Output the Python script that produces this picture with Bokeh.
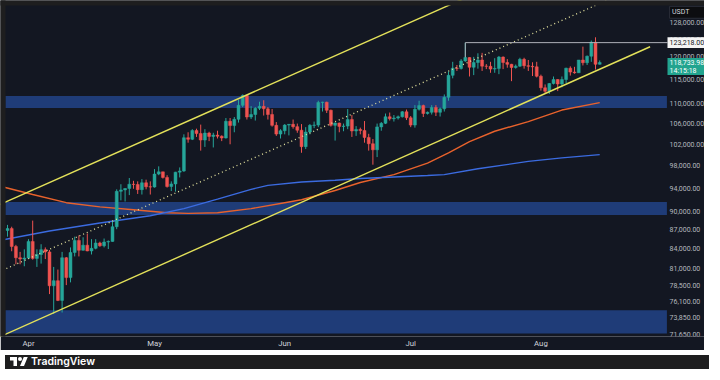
import numpy as np
from bokeh.plotting import figure
from bokeh.models import Range1d, FixedTicker, Div, ColumnDataSource
from bokeh.core.properties import value
from bokeh.layouts import column
from bokeh.embed import file_html
from bokeh.resources import INLINE

# ---------------- data (prices in thousands USDT) ----------------
start_date = "2025-03-27"   # day 0
open_k = [86.9, 87.2, 84.35, 82.6, 82.4, 82.55, 85.15, 82.5, 83.1, 83.85, 83.5, 78.4, 79.15, 76.3, 82.6, 79.6,
          83.4, 85.3, 83.75, 84.55, 83.65, 84.05, 84.9, 84.45, 85.05, 85.15, 87.5, 93.45, 93.7, 93.95, 94.7, 94.65,
          93.75, 94.95, 94.25, 94.2, 96.5, 96.9, 95.9, 94.3, 94.75, 96.85, 97.05, 103.25, 102.95, 104.65, 104.05,
          102.8, 104.15, 103.5, 103.75, 103.55, 103.2, 106.45, 105.6, 106.85, 109.65, 111.7, 107.3, 107.8, 109.05,
          109.45, 108.95, 107.8, 105.65, 103.95, 104.6, 105.7, 105.85, 105.4, 104.7, 101.55, 104.35, 105.65, 105.7,
          110.25, 110.3, 108.65, 105.65, 106.1, 105.45, 105.5, 106.8, 104.55, 104.85, 104.65, 103.3, 102.1, 100.95,
          105.35, 106.05, 107.35, 106.95, 107.1, 107.35, 108.35, 107.15, 105.7, 108.85, 109.6, 108.0, 108.25, 109.2,
          108.25, 108.95, 111.3, 115.95, 117.5, 117.45, 119.1, 119.85, 117.7, 118.75, 119.3, 117.95, 117.9, 117.3,
          117.45, 119.95, 118.75, 118.35, 117.65, 117.95, 119.45, 118.05, 117.9, 117.8, 115.75, 113.3, 112.55, 114.2,
          115.05, 114.1, 115.05, 117.5, 116.65, 116.5, 119.3, 118.7, 120.15, 123.3, 118.35]
high_k = [87.8, 87.5, 84.6, 83.5, 83.9, 85.5, 88.5, 83.9, 84.7, 84.2, 83.8, 81.2, 80.8, 83.5, 82.7, 84.2,
          85.9, 86.1, 85.8, 86.4, 85.5, 85.5, 85.1, 85.6, 85.3, 88.5, 93.8, 94.7, 94.0, 95.8, 95.3, 95.2,
          95.6, 95.5, 95.2, 97.4, 97.9, 96.9, 96.3, 95.2, 96.9, 97.7, 103.9, 104.3, 104.9, 105.0, 105.8,
          104.9, 104.4, 104.2, 104.6, 103.7, 107.1, 107.1, 107.3, 110.8, 111.9, 111.8, 109.5, 109.3, 110.4,
          110.7, 109.3, 108.9, 106.3, 104.9, 105.9, 105.9, 106.8, 106.0, 105.9, 105.3, 105.9, 106.4, 110.6,
          110.4, 110.4, 108.8, 106.2, 106.2, 106.0, 108.9, 107.7, 105.5, 105.2, 106.5, 104.0, 103.0, 106.0,
          106.3, 108.0, 108.2, 107.7, 107.6, 108.5, 108.8, 107.5, 109.7, 110.6, 109.8, 108.4, 109.7, 109.7,
          109.2, 111.9, 116.8, 118.9, 118.2, 119.5, 123.2, 119.9, 120.0, 120.8, 120.9, 118.4, 118.9, 119.7,
          120.2, 120.1, 119.5, 118.45, 118.3, 119.8, 119.8, 119.3, 118.8, 118.9, 116.1, 114.0, 114.3, 115.7,
          115.1, 115.7, 117.6, 117.9, 117.8, 119.3, 122.3, 120.3, 123.7, 124.45, 119.2]
low_k = [85.9, 83.6, 81.6, 81.6, 81.3, 82.4, 82.3, 81.2, 81.7, 82.4, 77.2, 74.4, 76.2, 74.6, 78.5, 78.9,
         82.8, 82.8, 83.7, 83.6, 83.1, 83.9, 84.3, 84.2, 83.95, 85.1, 87.1, 91.9, 91.7, 92.8, 93.9, 93.0,
         92.9, 93.8, 92.9, 94.1, 96.3, 95.7, 94.1, 93.5, 93.4, 95.9, 96.9, 102.3, 102.8, 103.4, 100.8,
         101.5, 102.6, 101.4, 103.1, 102.6, 103.1, 102.0, 104.3, 106.2, 109.3, 106.8, 106.9, 106.6, 108.7,
         107.6, 106.8, 105.4, 103.6, 103.1, 103.9, 103.7, 105.0, 104.2, 100.4, 101.1, 103.9, 105.1, 105.3,
         108.4, 108.1, 105.4, 102.7, 104.3, 104.5, 104.9, 103.4, 103.6, 103.9, 102.3, 100.8, 98.2, 99.6,
         104.6, 105.9, 106.6, 106.4, 106.8, 107.2, 106.7, 105.3, 105.2, 108.6, 107.3, 107.8, 107.8, 107.5,
         107.4, 108.4, 110.6, 115.3, 116.9, 117.2, 118.9, 115.7, 116.0, 117.4, 116.9, 117.3, 116.5, 116.5,
         116.2, 117.3, 117.6, 114.7, 117.4, 117.8, 117.4, 116.9, 115.8, 115.5, 112.7, 112.0, 112.0, 114.0,
         112.6, 113.4, 114.3, 115.9, 116.3, 116.5, 118.1, 118.2, 118.9, 117.2, 118.3]
close_k = [87.2, 84.35, 82.6, 82.4, 82.55, 85.15, 82.5, 83.1, 83.85, 83.5, 78.4, 79.15, 76.3, 82.6, 79.6, 83.4,
           85.3, 83.75, 84.55, 83.65, 84.05, 84.9, 84.45, 85.05, 85.15, 87.5, 93.45, 93.7, 93.95, 94.7, 94.65, 93.75,
           94.95, 94.25, 94.2, 96.5, 96.9, 95.9, 94.3, 94.75, 96.85, 97.05, 103.25, 102.95, 104.65, 104.05, 102.8,
           104.15, 103.5, 103.75, 103.55, 103.2, 106.45, 105.6, 106.85, 109.65, 111.7, 107.3, 107.8, 109.05, 109.45,
           108.95, 107.8, 105.65, 103.95, 104.6, 105.7, 105.85, 105.4, 104.7, 101.55, 104.35, 105.65, 105.7, 110.25,
           110.3, 108.65, 105.65, 106.1, 105.45, 105.5, 106.8, 104.55, 104.85, 104.65, 103.3, 102.1, 100.95, 105.35,
           106.05, 107.35, 106.95, 107.1, 107.35, 108.35, 107.15, 105.7, 108.85, 109.6, 108.0, 108.25, 109.2, 108.25,
           108.95, 111.3, 115.95, 117.5, 117.45, 119.1, 119.85, 117.7, 118.75, 119.3, 117.95, 117.9, 117.3, 117.45,
           119.95, 118.75, 118.35, 117.65, 117.95, 119.45, 118.05, 117.9, 117.8, 115.75, 113.3, 112.55, 114.2, 115.05,
           114.1, 115.05, 117.5, 116.65, 116.5, 119.3, 118.7, 120.15, 123.3, 118.35, 118.73398]

# moving averages (day offset, value in thousands)
ma_orange_days = [-1, 6, 14, 22, 30, 38, 43, 50, 58, 66, 70, 78, 84, 92, 100, 105, 110, 116, 124, 132, 141]
ma_orange_k = [94.2, 92.9, 91.5, 90.8, 90.3, 89.8, 89.7, 89.8, 90.5, 91.5, 92.0, 93.6, 95.0, 96.4, 98.5, 100.4,
               102.5, 104.5, 106.4, 108.7, 110.2]
ma_blue_days = [-1, 10, 22, 34, 42, 50, 58, 62, 70, 78, 84, 100, 104, 112, 124, 132, 141]
ma_blue_k = [85.4, 86.8, 88.1, 89.3, 90.5, 92.1, 93.8, 94.5, 95.1, 95.4, 95.7, 96.25, 96.4, 97.45, 98.8, 99.45, 100.06]

# drawn channel (day offsets, value in thousands)
upper_days, upper_k = [-2, 110], [91.13, 134.35]
mid_days, mid_k = [-2, 145], [80.47, 134.37]
lower_days, lower_k = [-2, 153], [71.27, 122.28]

# support / resistance zones
zone_bottom_k = [109.1, 89.45, 71.75]
zone_top_k = [111.6, 91.6, 74.9]
zone_start_day, zone_end_day = -0.5, 157.0

# price line (previous high) and price-scale tags
prev_high = 123218.00
prev_high_day = 109
last_price = 118733.98
countdown = "14:15:18"
quote = "USDT"

month_ticks = [5, 35, 66, 96, 127]
month_labels = ["Apr", "May", "Jun", "Jul", "Aug"]
price_ticks = [128000, 124000, 120000, 115000, 110000, 106000, 102000, 98000, 94000, 90000,
               87000, 84000, 81000, 78500, 76100, 73850, 71650]

# ---------------- layout / styling ----------------
BG = "#131722"
FRAME = "#1e1e1f"
ZONE = "#1f3c78"
YELLOW = "#e3e15a"
DOTTED = "#e8e6a0"
ORANGE = "#e8622c"
BLUE = "#3b6be0"
UP = "#26a69a"
DOWN = "#ef5350"
FONT = "Roboto"

X0, X1 = -1.667, 165.95          # chart pane + price scale share one frame
Y0, Y1 = 71346, 133259
PANE_LEFT_DAY = -0.476
SCALE_DAY = 157.14               # where the price scale begins
LABEL_DAY = 157.62
TAG_DAY1 = 167.0
FRAME_H = 338
px_per_ln = FRAME_H / np.log(Y1 / Y0)

K = 1000.0
o = np.array(open_k) * K
h = np.array(high_k) * K
l = np.array(low_k) * K
c = np.array(close_k) * K
day = np.arange(len(c))
colors = [UP if cc >= oo else DOWN for oo, cc in zip(o, c)]


def shift(price, px):
    return price * np.exp(px / px_per_ln)


p = figure(width=704, height=350, x_range=Range1d(X0, X1), y_range=Range1d(Y0, Y1),
           y_axis_type="log", y_axis_location=None, output_backend="svg", toolbar_location=None,
           background_fill_color=BG, border_fill_color=BG, outline_line_color=None,
           min_border_left=0, min_border_top=0, min_border_right=0, min_border_bottom=12)
p.grid.visible = False

# zones
p.quad(left=[zone_start_day] * 3, right=[zone_end_day] * 3,
       bottom=np.array(zone_bottom_k) * K, top=np.array(zone_top_k) * K,
       fill_color=ZONE, line_color=None)

# moving averages
p.line(ma_orange_days, np.array(ma_orange_k) * K, line_color=ORANGE, line_width=1.4)
p.line(ma_blue_days, np.array(ma_blue_k) * K, line_color=BLUE, line_width=1.4)

# candles
src = ColumnDataSource(dict(x=day, o=o, h=h, l=l, c=c, top=np.maximum(o, c), bot=np.minimum(o, c), col=colors))
p.segment(x0="x", y0="l", x1="x", y1="h", line_color="col", line_width=1, source=src)
p.vbar(x="x", width=0.7, top="top", bottom="bot", fill_color="col", line_color="col", line_width=0.5, source=src)

# channel lines
p.line(upper_days, np.array(upper_k) * K, line_color=YELLOW, line_width=1.4)
p.line(lower_days, np.array(lower_k) * K, line_color=YELLOW, line_width=1.4)
p.line(mid_days, np.array(mid_k) * K, line_color=DOTTED, line_width=1.3, line_dash="1 3")

# outer window frame (left edge and title strip), drawn over the pane edges
p.quad(left=[X0 - 1, X0 - 1], right=[PANE_LEFT_DAY, X1 + 1], bottom=[Y0 * 0.9, shift(Y1, -5)],
       top=[Y1 * 1.1, Y1 * 1.1], fill_color=FRAME, line_color=None)

# previous high marker
p.segment(x0=[prev_high_day, prev_high_day], y0=[prev_high, prev_high], x1=[SCALE_DAY, prev_high_day],
          y1=[prev_high, 119900], line_color="#aeb1b8", line_width=1)

# ---- price scale (labels placed with the plot's log scale) ----
tick_src = ColumnDataSource(dict(x=[LABEL_DAY] * len(price_ticks), y=price_ticks,
                                 t=[f"{v:,.2f}" for v in price_ticks]))
p.text(x="x", y="y", text="t", source=tick_src, text_font=value(FONT), text_font_size="7px",
       text_color="#b4b7bf", text_align="left", text_baseline="middle")

# quote currency box
usdt_y = shift(prev_high, 30.5)
p.quad(left=[SCALE_DAY + 0.5], right=[TAG_DAY1], top=[shift(usdt_y, 6)], bottom=[shift(usdt_y, -6)],
       fill_color="#0c0d10", line_color="#2a2e39", line_width=1)
p.text(x=[LABEL_DAY + 0.6], y=[usdt_y], text=[quote], text_font=value(FONT), text_font_size="7px",
       text_color="#d1d4dc", text_align="left", text_baseline="middle")

# previous-high tag
p.quad(left=[SCALE_DAY], right=[TAG_DAY1], top=[shift(prev_high, 5.5)], bottom=[shift(prev_high, -5.5)],
       fill_color="#f4f4f4", line_color=None)
p.text(x=[LABEL_DAY], y=[prev_high], text=[f"{prev_high:,.2f}"], text_font=value(FONT),
       text_font_size="7px", text_color="#131722", text_align="left", text_baseline="middle")

# last-price tag
p.quad(left=[SCALE_DAY], right=[TAG_DAY1], top=[shift(last_price, 4.5)], bottom=[shift(last_price, -12.5)],
       fill_color="#22a48f", line_color=None)
p.text(x=[LABEL_DAY], y=[last_price], text=[f"{last_price:,.2f}"], text_font=value(FONT),
       text_font_size="7px", text_color="#ffffff", text_align="left", text_baseline="middle")
p.text(x=[LABEL_DAY], y=[last_price], y_offset=8.5, text=[countdown], text_font=value(FONT),
       text_font_size="7px", text_color="#ffffff", text_align="left", text_baseline="middle")

# ---- time axis ----
xa = p.xaxis[0]
xa.ticker = FixedTicker(ticks=month_ticks)
xa.major_label_overrides = {t: s for t, s in zip(month_ticks, month_labels)}
xa.major_label_text_font = FONT
xa.major_label_text_font_size = "7.8px"
xa.major_label_text_color = "#d1d4dc"
xa.axis_line_color = None
xa.major_tick_line_color = None
xa.minor_tick_line_color = None
xa.major_tick_out = 0
xa.major_tick_in = 0
xa.major_label_standoff = 2

logo = Div(width=704, height=14, text=(
    '<div style="width:704px;height:14px;background:%s;display:flex;align-items:center;overflow:hidden;">'
    '<svg width="18" height="14" viewBox="0 0 36 28" style="margin-left:5px;">'
    '<path fill="#ffffff" d="M14 22H7V11H0V4h14v18zM28 22h-8l7.5-18h8L28 22z"/>'
    '<circle fill="#ffffff" cx="20" cy="8" r="4"/></svg>'
    '<span style="font-family:Inter;font-weight:600;font-size:10.5px;line-height:14px;color:#ffffff;'
    'margin-left:3px;">TradingView</span></div>' % FRAME))

layout = column(p, logo, spacing=0)
open("out.html", "w").write(file_html(layout, INLINE))
